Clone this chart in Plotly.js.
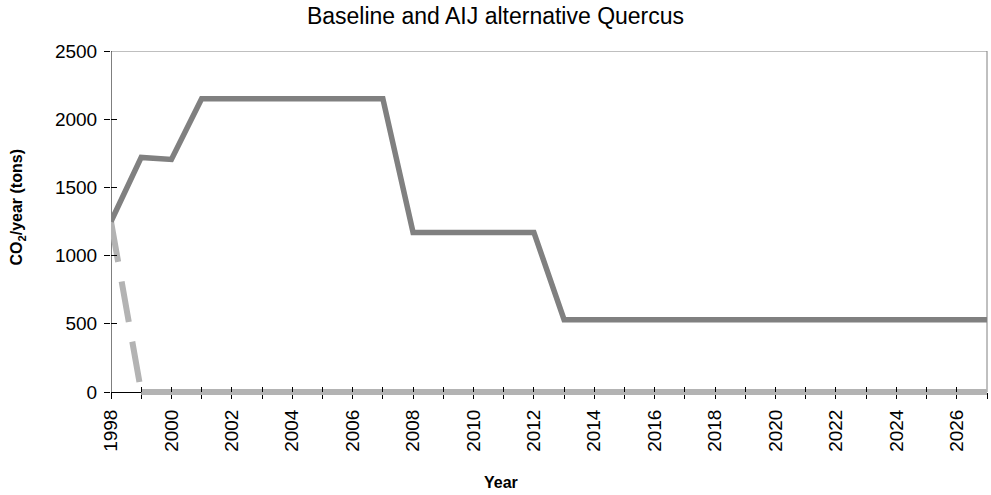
<!DOCTYPE html>
<html><head><meta charset="utf-8">
<script src="https://cdn.plot.ly/plotly-3.0.1.min.js"></script>
<style>html,body{margin:0;padding:0;background:#fff}</style>
</head><body>
<div id="chart" style="width:991px;height:495px"></div>
<script>
const baselineYears = [1998,1999,2000,2001,2002,2003,2004,2005,2006,2007,2008,2009,2010,2011,2012,2013,2014,2015,2016,2017,2018,2019,2020,2021,2022,2023,2024,2025,2026,2027];
const baselineValues = [1250,1720,1705,2150,2150,2150,2150,2150,2150,2150,1170,1170,1170,1170,1170,530,530,530,530,530,530,530,530,530,530,530,530,530,530,530];
const aijDropYears = [1998,1999];
const aijDropValues = [1250,0];
const aijYears = [1999,2000,2001,2002,2003,2004,2005,2006,2007,2008,2009,2010,2011,2012,2013,2014,2015,2016,2017,2018,2019,2020,2021,2022,2023,2024,2025,2026,2027];
const aijValues = [0,0,0,0,0,0,0,0,0,0,0,0,0,0,0,0,0,0,0,0,0,0,0,0,0,0,0,0,0];
const xTickVals = [1998,2000,2002,2004,2006,2008,2010,2012,2014,2016,2018,2020,2022,2024,2026];
const yTickVals = [0,500,1000,1500,2000,2500];

const fam = '"Liberation Sans", Arial, sans-serif';
const yMin = -22, yMax = 2500;
const zeroPos = (0 - yMin) / (yMax - yMin);

const traces = [
  {x:aijYears, y:aijValues, mode:'lines', line:{color:'#b3b3b3', width:6}, hoverinfo:'skip'},
  {x:aijDropYears, y:aijDropValues, mode:'lines', line:{color:'#b3b3b3', width:6, dash:'41px,20px'}, hoverinfo:'skip'},
  {x:baselineYears, y:baselineValues, mode:'lines', line:{color:'#808080', width:5.5}, hoverinfo:'skip'},
  {x:[1998], y:[0], xaxis:'x2', yaxis:'y2', mode:'markers', marker:{opacity:0}, hoverinfo:'skip'}
];
const layout = {
  width:991, height:495,
  margin:{l:111, r:4, t:51, b:100},
  paper_bgcolor:'#fff', plot_bgcolor:'#fff',
  showlegend:false,
  font:{family:fam, color:'#000'},
  title:{text:'Baseline and AIJ alternative Quercus', font:{size:23, family:fam, color:'#000'}, x:0.5, xref:'container', xanchor:'center', yref:'container', y:0.985, yanchor:'top'},
  xaxis:{range:[1998,2027], tickvals:xTickVals, ticktext:xTickVals.map(String), tickangle:-90,
    anchor:'free', position:zeroPos,
    ticks:'outside', ticklen:6, tickcolor:'#000', tickwidth:1, ticklabelstandoff:3,
    minor:{dtick:1, tick0:1998, ticks:'outside', ticklen:6, tickcolor:'#000', tickwidth:1},
    showline:true, linecolor:'#000', linewidth:1, showgrid:false, zeroline:false,
    tickfont:{size:19}, layer:'below traces'},
  yaxis:{range:[yMin,yMax], tickvals:yTickVals, ticks:'outside', ticklen:6, tickcolor:'#000', tickwidth:1,
    showline:false, showgrid:false, zeroline:false, ticklabelstandoff:3,
    tickfont:{size:19}},
  xaxis2:{overlaying:'x', range:[1998,2027], dtick:1, tick0:1998, ticks:'inside', ticklen:5, tickcolor:'#000', showticklabels:false, showgrid:false, zeroline:false, showline:false, anchor:'free', position:zeroPos},
  yaxis2:{overlaying:'y', range:[yMin,yMax], tickvals:yTickVals, ticks:'inside', ticklen:6, tickcolor:'#000', showticklabels:false, showgrid:false, zeroline:false, showline:false, anchor:'x'},
  shapes:[
    {type:'line', xref:'x', yref:'y', x0:1998, x1:1998, y0:0, y1:2500, line:{color:'#000', width:1}, layer:'below'},
    {type:'line', xref:'paper', yref:'y', x0:0, x1:1, y0:2500, y1:2500, line:{color:'#808080', width:1}, layer:'below'},
    {type:'line', xref:'paper', yref:'y', x0:1, x1:1, y0:0, y1:2500, line:{color:'#808080', width:1}, layer:'below'}
  ],
  annotations:[
    {text:'<b>Year</b>', xref:'paper', yref:'paper', x:(501-111)/876, y:-0.255, xanchor:'center', yanchor:'middle', showarrow:false, font:{size:16, family:fam, color:'#000'}},
    {text:'<b>CO<sub>2</sub>/year (tons)</b>', xref:'paper', yref:'paper', x:(18-111)/876, y:0.545, xanchor:'center', yanchor:'middle', textangle:-90, showarrow:false, font:{size:16, family:fam, color:'#000'}}
  ]
};
Plotly.newPlot('chart', traces, layout, {displayModeBar:false, staticPlot:true});
</script>
</body></html>
